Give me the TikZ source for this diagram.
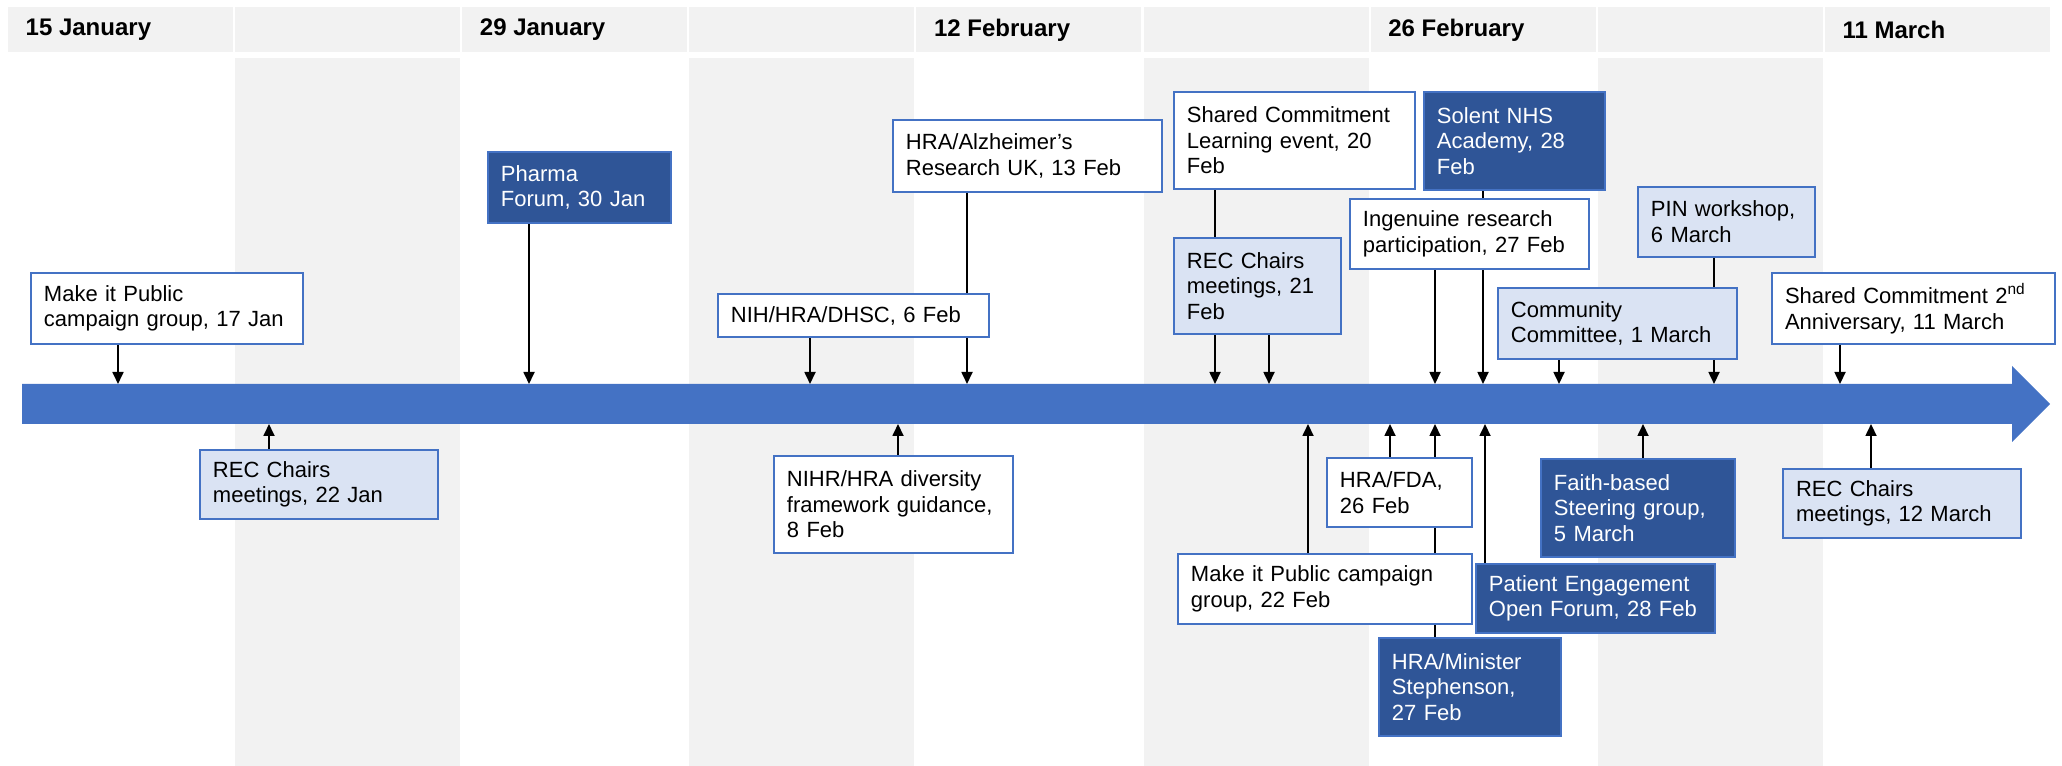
\documentclass[tikz,border=0pt]{standalone}
\usepackage{fontspec}
\setmainfont{Liberation Sans}
\usetikzlibrary{arrows.meta}
\definecolor{barblue}{HTML}{4472C4}
\definecolor{paleblue}{HTML}{DAE3F3}
\definecolor{darkblue}{HTML}{2F5597}
\definecolor{stripe}{HTML}{F2F2F2}
\newcommand{\evfont}{\fontsize{6.26}{7.3}\selectfont}
\newcommand{\hdfont}{\fontsize{6.83}{8}\selectfont\bfseries}
\pgfdeclarelayer{back}
\pgfdeclarelayer{links}
\pgfsetlayers{back,links,main}

\begin{document}
\begin{tikzpicture}[
  evbox/.style={draw=barblue, line width=0.55pt, anchor=north west, inner xsep=0.13cm, inner ysep=0.03cm, align=left, font=\evfont},
  plain/.style={evbox, fill=white},
  pale/.style={evbox, fill=paleblue},
  dark/.style={evbox, fill=darkblue, text=white},
  evt/.style={-{Triangle[length=0.12cm,width=0.11cm]}, line width=0.5pt},
  hdtext/.style={anchor=west, inner sep=0pt, font=\hdfont}]
  \useasboundingbox (0,0) rectangle (20.62,-7.66);
  % Fortnight columns
  \begin{pgfonlayer}{back}
  \foreach \i in {0,...,8}
    \fill[stripe] (0.08+2.271*\i,-0.07) rectangle ++(2.25,-0.45);
  \foreach \i in {1,3,5,7}
    \fill[stripe] (0.08+2.271*\i,-0.58) rectangle ++(2.25,-7.08);
  \end{pgfonlayer}
  \foreach \i/\dt in {0/15 January,2/29 January,4/12 February,6/26 February,8/11 March}
    \node[hdtext] (hd\i) at (0.25+2.271*\i,-0.30) {\dt};
  % Events above the line
  \node[plain, text width=2.46cm, minimum height=0.71cm] (mkpubjan) at (0.30,-2.72) {Make it Public\\campaign group, 17 Jan};
  \node[dark, text width=1.57cm, minimum height=0.71cm] (pharma) at (4.87,-1.51) {Pharma\\Forum, 30 Jan};
  \node[plain, text width=2.45cm, minimum height=0.43cm] (nih) at (7.17,-2.93) {NIH/HRA/DHSC, 6 Feb};
  \node[plain, text width=2.43cm, minimum height=0.72cm] (hraalz) at (8.92,-1.19) {HRA/Alzheimer's\\Research UK, 13 Feb};
  \node[plain, text width=2.15cm, minimum height=0.97cm] (scevent) at (11.73,-0.91) {Shared Commitment\\Learning event, 20\\Feb};
  \node[pale, text width=1.41cm, minimum height=0.96cm] (recfeb) at (11.73,-2.37) {REC Chairs\\meetings, 21\\Feb};
  \node[dark, text width=1.55cm, minimum height=0.98cm] (solent) at (14.23,-0.91) {Solent NHS\\Academy, 28\\Feb};
  \node[plain, text width=2.13cm, minimum height=0.70cm] (ingen) at (13.49,-1.98) {Ingenuine research\\participation, 27 Feb};
  \node[pale, text width=2.13cm, minimum height=0.71cm] (commit) at (14.97,-2.87) {Community\\Committee, 1 March};
  \node[pale, text width=1.51cm, minimum height=0.70cm] (pin) at (16.37,-1.86) {PIN workshop,\\6 March};
  \node[plain, text width=2.57cm, minimum height=0.71cm] (anniv) at (17.71,-2.72) {Shared Commitment 2\textsuperscript{nd}\\Anniversary, 11 March};
  % Events below the line
  \node[pale, text width=2.12cm, minimum height=0.69cm] (recjan) at (1.99,-4.49) {REC Chairs\\meetings, 22 Jan};
  \node[plain, text width=2.13cm, minimum height=0.97cm] (nihr) at (7.73,-4.55) {NIHR/HRA diversity\\framework guidance,\\8 Feb};
  \node[plain, text width=2.68cm, minimum height=0.70cm] (mkpubfeb) at (11.77,-5.53) {Make it Public campaign\\group, 22 Feb};
  \node[plain, text width=1.19cm, minimum height=0.69cm] (fda) at (13.26,-4.57) {HRA/FDA,\\26 Feb};
  \node[dark, text width=1.56cm, minimum height=0.98cm] (minister) at (13.78,-6.37) {HRA/Minister\\Stephenson,\\27 Feb};
  \node[dark, text width=2.13cm, minimum height=0.69cm] (patient) at (14.75,-5.63) {Patient Engagement\\Open Forum, 28 Feb};
  \node[dark, text width=1.68cm, minimum height=0.98cm] (faith) at (15.40,-4.58) {Faith-based\\Steering group,\\5 March};
  \node[pale, text width=2.12cm, minimum height=0.69cm] (recmar) at (17.82,-4.68) {REC Chairs\\meetings, 12 March};
  \begin{pgfonlayer}{links}
  % Timeline
  \fill[barblue] (0.22,-3.84) -- (20.12,-3.84) -- (20.12,-3.66) -- (20.50,-4.04)
    -- (20.12,-4.42) -- (20.12,-4.24) -- (0.22,-4.24) -- cycle;
  \coordinate (bartop) at (0,-3.84);
  \coordinate (barbot) at (0,-4.24);
  % Down to the line
  \foreach \n/\x in {mkpubjan/1.18, pharma/5.29, nih/8.10, hraalz/9.67, scevent/12.15, recfeb/12.69,
      solent/14.83, ingen/14.35, commit/15.59, pin/17.14, anniv/18.40}
    \draw[evt] (\n.south -| \x,0) -- (\x,0 |- bartop);
  % Up to the line
  \foreach \n/\x in {recjan/2.69, nihr/8.98, mkpubfeb/13.08, fda/13.90, minister/14.35, patient/14.85,
      faith/16.43, recmar/18.71}
    \draw[evt] (\n.north -| \x,0) -- (\x,0 |- barbot);
  \end{pgfonlayer}
\end{tikzpicture}
\end{document}
